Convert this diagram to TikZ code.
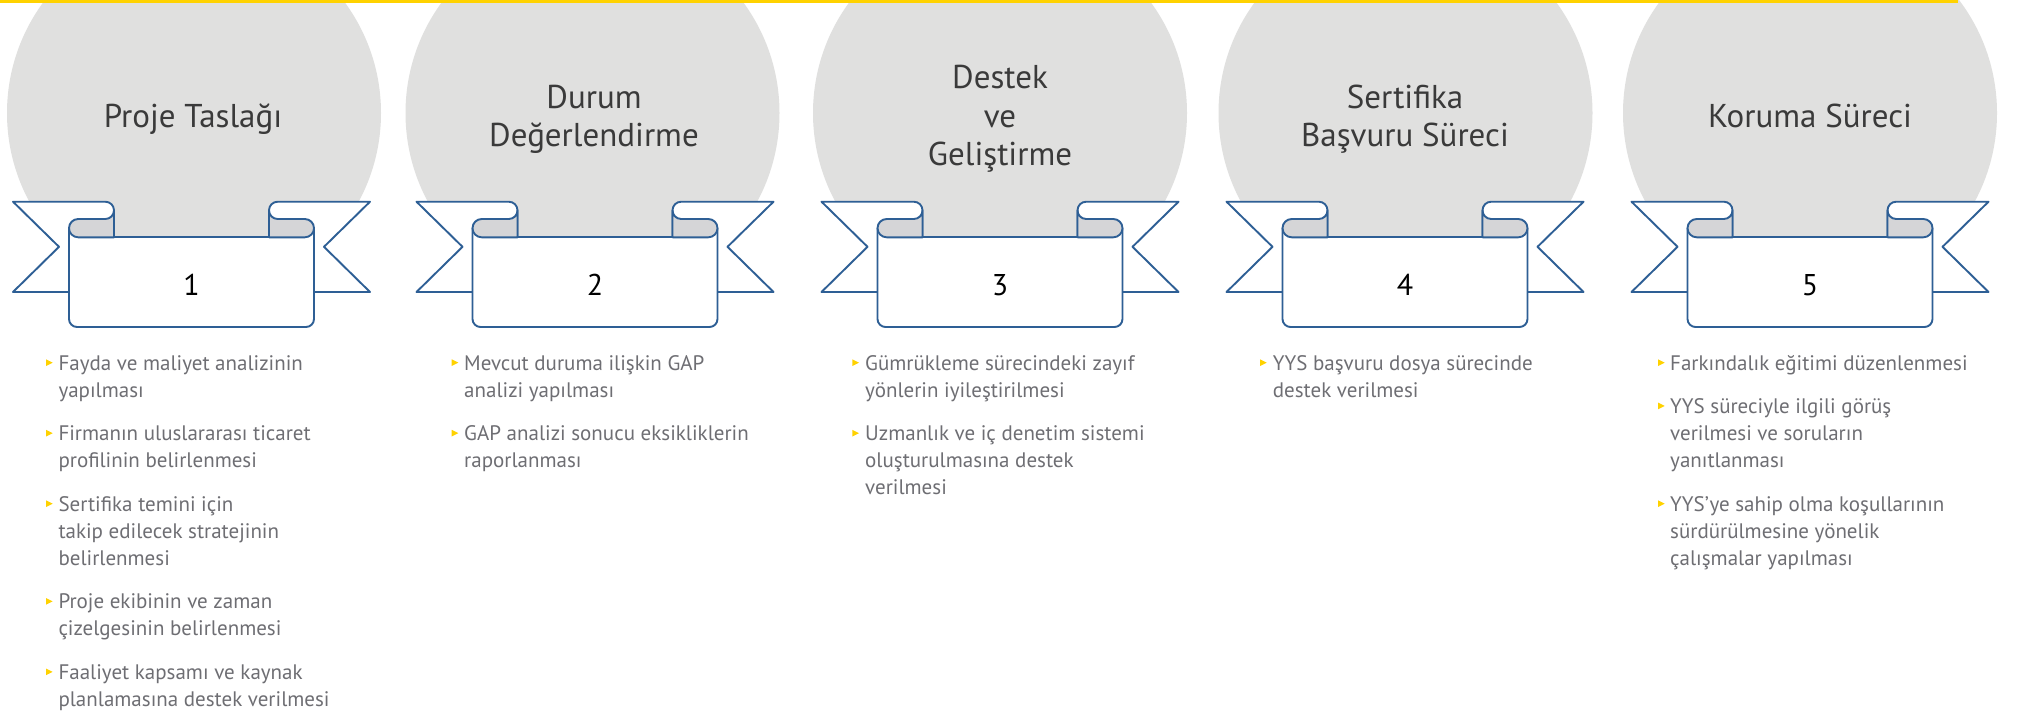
\documentclass[tikz,border=0pt]{standalone}
\usepackage{fontspec}
\setmainfont{PT Sans}
\definecolor{ribblue}{HTML}{2E5F95}
\definecolor{foldgray}{HTML}{D5D5D7}
\definecolor{circgray}{HTML}{E0E0DF}
\definecolor{eyyellow}{HTML}{FFD200}
\definecolor{titlegray}{HTML}{3A3A3A}
\definecolor{textgray}{HTML}{6E6E73}
\tikzset{
  ribline/.style={draw=ribblue, line width=1.9pt, line join=round},
  titletext/.style={font=\fontsize{33}{38}\selectfont, text=titlegray, anchor=base, inner sep=0pt},
  digittext/.style={font=\fontsize{30}{36}\selectfont, text=black, anchor=base, inner sep=0pt},
  itemtext/.style={font=\fontsize{21}{27}\selectfont, text=textgray, anchor=base west, inner sep=0pt},
}
\newcommand\ribbonside{%
  \filldraw[ribline, fill=white] (-178.5,-201.7) -- (-86.15,-201.7)
    arc[start angle=90,end angle=0,radius=8.65] -- (-77.5,-292) -- (-178.5,-292)
    -- (-132.5,-246.8) -- cycle;}
\newcommand\ribbonfold{%
  \filldraw[ribline, fill=foldgray] (-77.5,-210.35) -- (-77.5,-237.3) -- (-113.35,-237.3)
    arc[start angle=270,end angle=90,radius=9.15] -- (-86.15,-219)
    arc[start angle=270,end angle=360,radius=8.65] -- cycle;}
\newcommand\ribbon[3]{%
  \begin{scope}[xshift=#1pt]
    \ribbonside
    \begin{scope}[xscale=-1]\ribbonside\end{scope}
    \fill[white, rounded corners=8pt] (-122.5,-237.3) -- (-122.5,-327) -- (122.5,-327) -- (122.5,-237.3);
    \draw[ribline, rounded corners=8pt] (-122.5,-228.15) -- (-122.5,-327) -- (122.5,-327) -- (122.5,-228.15);
    \draw[ribline] (-113.35,-237.3) -- (113.35,-237.3);
    \ribbonfold
    \begin{scope}[xscale=-1]\ribbonfold\end{scope}
    \node[digittext] (#3) at (0,-295) {#2};
  \end{scope}}
\newcommand\bul[2]{\fill[eyyellow] (#1,-#2+10.7) -- (#1+6.7,-#2+7.35) -- (#1,-#2+4) -- cycle;}
\begin{document}
\begin{tikzpicture}[x=1pt,y=1pt]
\useasboundingbox (0,0) rectangle (2019,-712);
\clip (0,0) rectangle (2019,-712);
\fill[white] (0,0) rectangle (2019,-712);
% circles
\foreach \c in {194,592.5,1000,1405.5,1810} {\fill[circgray] (\c,-113) circle[radius=187];}
% top bar
\fill[eyyellow] (0,0) rectangle (1958,-2.5);
% titles
\node[titletext] (t1) at (193,-127) {Proje Taslağı};
\node[titletext] (t2a) at (594,-108.3) {Durum};
\node[titletext] (t2b) at (594,-146.7) {Değerlendirme};
\node[titletext] (t3a) at (1000,-88.6) {Destek};
\node[titletext] (t3b) at (1000,-127) {ve};
\node[titletext] (t3c) at (1000,-165.4) {Geliştirme};
\node[titletext] (t4a) at (1405,-108.3) {Sertifika};
\node[titletext] (t4b) at (1405,-146.7) {Başvuru Süreci};
\node[titletext] (t5) at (1810,-127) {Koruma Süreci};
% ribbons
\ribbon{191.5}{1}{r1}
\ribbon{595}{2}{r2}
\ribbon{1000}{3}{r3}
\ribbon{1405}{4}{r4}
\ribbon{1810}{5}{r5}
% column 1
\bul{46}{370}\bul{46}{440.5}\bul{46}{511}\bul{46}{608.7}\bul{46}{679.2}
\node[itemtext] (a1) at (58.3,-370) {Fayda ve maliyet analizinin};
\node[itemtext] (a2) at (58.3,-397.2) {yapılması};
\node[itemtext] (a3) at (58.3,-440.5) {Firmanın uluslararası ticaret};
\node[itemtext] (a4) at (58.3,-467.7) {profilinin belirlenmesi};
\node[itemtext] (a5) at (58.3,-511) {Sertifika temini için};
\node[itemtext] (a6) at (58.3,-538.2) {takip edilecek stratejinin};
\node[itemtext] (a7) at (58.3,-565.4) {belirlenmesi};
\node[itemtext] (a8) at (58.3,-608.7) {Proje ekibinin ve zaman};
\node[itemtext] (a9) at (58.3,-635.9) {çizelgesinin belirlenmesi};
\node[itemtext] (a10) at (58.3,-679.2) {Faaliyet kapsamı ve kaynak};
\node[itemtext] (a11) at (58.3,-706.4) {planlamasına destek verilmesi};
% column 2
\bul{451.7}{370}\bul{451.7}{440.5}
\node[itemtext] (b1) at (464,-370) {Mevcut duruma ilişkin GAP};
\node[itemtext] (b2) at (464,-397.2) {analizi yapılması};
\node[itemtext] (b3) at (464,-440.5) {GAP analizi sonucu eksikliklerin};
\node[itemtext] (b4) at (464,-467.7) {raporlanması};
% column 3
\bul{852.3}{370}\bul{852.3}{440.5}
\node[itemtext] (c1) at (865,-370) {Gümrükleme sürecindeki zayıf};
\node[itemtext] (c2) at (865,-397.2) {yönlerin iyileştirilmesi};
\node[itemtext] (c3) at (865,-440.5) {Uzmanlık ve iç denetim sistemi};
\node[itemtext] (c4) at (865,-467.7) {oluşturulmasına destek};
\node[itemtext] (c5) at (865,-494.9) {verilmesi};
% column 4
\bul{1260}{370}
\node[itemtext] (d1) at (1272.7,-370) {YYS başvuru dosya sürecinde};
\node[itemtext] (d2) at (1272.7,-397.2) {destek verilmesi};
% column 5
\bul{1658}{370}\bul{1658}{413.3}\bul{1658}{511}
\node[itemtext] (e1) at (1670,-370) {Farkındalık eğitimi düzenlenmesi};
\node[itemtext] (e2) at (1670,-413.3) {YYS süreciyle ilgili görüş};
\node[itemtext] (e3) at (1670,-440.5) {verilmesi ve soruların};
\node[itemtext] (e4) at (1670,-467.7) {yanıtlanması};
\node[itemtext] (e5) at (1670,-511) {YYS’ye sahip olma koşullarının};
\node[itemtext] (e6) at (1670,-538.2) {sürdürülmesine yönelik};
\node[itemtext] (e7) at (1670,-565.4) {çalışmalar yapılması};
\end{tikzpicture}
\end{document}
